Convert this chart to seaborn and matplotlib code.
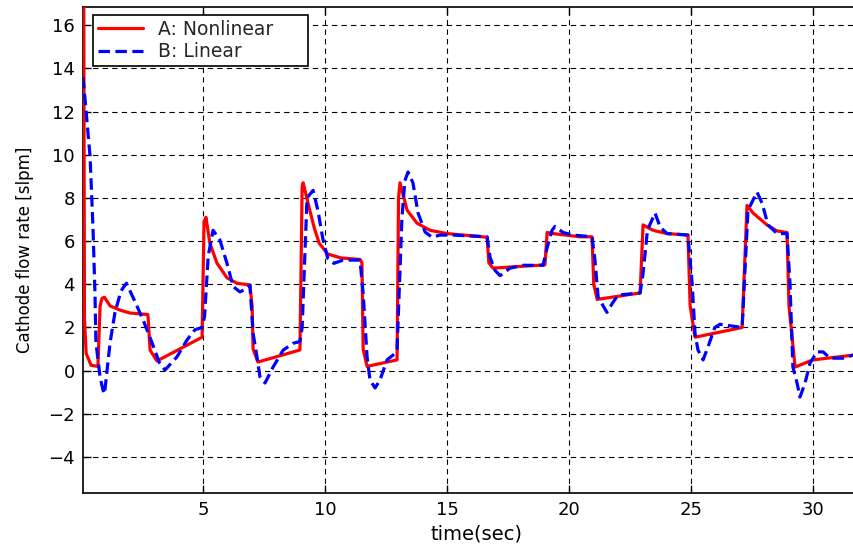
import numpy as np
import pandas as pd
import matplotlib
matplotlib.use("Agg")
import matplotlib.pyplot as plt
import seaborn as sns

# Cathode flow rate responses of the two controllers
t_nonlinear = [0.10, 0.13, 0.20, 0.40, 0.68, 0.77, 0.85, 0.95, 1.18, 1.60, 2.00, 2.73,
               2.82, 3.10, 4.95, 5.03, 5.11, 5.27, 5.56, 5.97, 6.38, 6.91, 7.00, 7.04,
               7.24, 8.96, 9.05, 9.09, 9.37, 9.55, 9.75, 10.10, 10.65, 11.42, 11.50,
               11.55, 11.71, 12.94, 13.00, 13.06, 13.35, 13.76, 14.29, 14.99, 16.63,
               16.70, 16.87, 19.00, 19.09, 19.33, 20.44, 20.93, 21.00, 21.14, 22.90,
               23.02, 23.43, 24.00, 24.86, 24.95, 25.15, 27.08, 27.28, 27.53, 28.10,
               28.51, 28.92, 29.00, 29.25, 29.98, 31.63, 32.30]
flow_nonlinear = [18.0, 2.4, 0.8, 0.25, 0.2, 3.0, 3.35, 3.4, 3.0, 2.8, 2.67, 2.6,
                  0.95, 0.45, 1.55, 6.9, 7.1, 5.9, 4.98, 4.3, 4.05, 3.97, 3.0, 1.0,
                  0.4, 0.96, 8.5, 8.7, 7.4, 6.6, 5.9, 5.4, 5.22, 5.15, 5.0,
                  1.0, 0.2, 0.5, 8.0, 8.7, 7.43, 6.83, 6.5, 6.35, 6.18,
                  5.0, 4.75, 4.9, 6.4, 6.35, 6.2, 6.2, 4.0, 3.3, 3.6,
                  6.75, 6.5, 6.35, 6.28, 3.0, 1.55, 2.0, 7.65, 7.3, 6.75,
                  6.47, 6.4, 3.0, 0.17, 0.5, 0.72, 0.75]

t_linear = [0.07, 0.19, 0.36, 0.48, 0.56, 0.60, 0.77, 0.89, 0.95, 1.18, 1.38, 1.63,
            1.85, 2.20, 2.55, 2.88, 3.20, 3.43, 3.92, 4.33, 4.66, 4.95, 5.05, 5.20,
            5.40, 5.68, 5.97, 6.22, 6.50, 6.79, 6.91, 7.04, 7.20, 7.32, 7.53, 7.86,
            8.27, 8.68, 8.96, 9.05, 9.25, 9.50, 9.70, 9.90, 10.10, 10.35, 10.73,
            11.42, 11.55, 11.71, 11.83, 12.04, 12.24, 12.53, 12.86, 12.94, 13.14,
            13.26, 13.39, 13.59, 13.80, 14.09, 14.37, 14.70, 15.23, 16.63, 16.75,
            16.95, 17.16, 17.57, 18.10, 18.92, 19.09, 19.29, 19.41, 19.74, 20.15,
            20.93, 21.05, 21.18, 21.54, 21.75, 21.99, 22.90, 23.02, 23.20, 23.51,
            23.72, 24.00, 24.86, 25.03, 25.15, 25.27, 25.48, 25.68, 25.96, 26.17,
            27.08, 27.32, 27.69, 27.90, 28.14, 28.51, 28.92, 29.04, 29.16, 29.33,
            29.45, 29.66, 29.86, 30.15, 30.40, 30.68, 31.22, 31.63, 32.30]
flow_linear = [13.6, 12.1, 9.9, 6.6, 3.6, 1.3, -0.3, -0.9, -1.08, 1.3, 2.7, 3.7,
               4.05, 3.2, 2.3, 1.35, 0.37, 0.03, 0.64, 1.42, 1.9, 2.0, 2.5, 5.3,
               6.5, 6.05, 4.97, 3.9, 3.65, 3.8, 3.96, 1.73, 0.64, -0.28, -0.57, 0.17,
               0.95, 1.27, 1.35, 2.0, 8.0, 8.35, 7.4, 6.1, 5.2, 4.97, 5.12,
               5.12, 3.6, 0.64, -0.43, -0.8, -0.43, 0.5, 0.8, 1.0, 7.1,
               8.8, 9.2, 8.7, 7.3, 6.42, 6.18, 6.28, 6.28, 6.2, 5.25,
               4.65, 4.4, 4.75, 4.88, 4.88, 5.7, 6.5, 6.68, 6.4, 6.28,
               6.2, 5.1, 3.4, 2.7, 3.1, 3.5, 3.6, 4.5, 6.5, 7.3,
               6.65, 6.35, 6.28, 4.05, 1.73, 0.96, 0.5, 1.1, 2.0, 2.15,
               2.0, 7.43, 8.27, 7.75, 6.75, 6.35, 6.35, 4.05, 0.17, -0.57,
               -1.22, -0.57, 0.35, 0.87, 0.87, 0.58, 0.58, 0.72, 0.75]

series_labels = ["A: Nonlinear", "B: Linear"]
x_ticks = [5, 10, 15, 20, 25, 30]
y_ticks = [-4, -2, 0, 2, 4, 6, 8, 10, 12, 14, 16]

sns.set_theme(style="ticks")
plt.rcParams["font.family"] = ["DejaVu Sans"]

W, H = 854, 546
fig = plt.figure(figsize=(W / 100, H / 100), dpi=100, facecolor="white")
ax_left, ax_right, ax_top, ax_bottom = 83, 870, 7, 492.5
ax = fig.add_axes([ax_left / W, (H - ax_bottom) / H,
                   (ax_right - ax_left) / W, (ax_bottom - ax_top) / H])
ax.set_facecolor("white")

df_a = pd.DataFrame({"time": t_nonlinear, "flow": flow_nonlinear})
df_b = pd.DataFrame({"time": t_linear, "flow": flow_linear})

sns.lineplot(data=df_a, x="time", y="flow", ax=ax, color="#ff0000", lw=2.3,
             label=series_labels[0], estimator=None, sort=False, zorder=3)
sns.lineplot(data=df_b, x="time", y="flow", ax=ax, color="#0000ff", lw=2.3,
             linestyle=(0, (3.6, 1.7)), label=series_labels[1],
             estimator=None, sort=False, zorder=4)

ax.set_xlim(0.07, 32.32)
ax.set_ylim(-5.64, 16.84)
ax.set_xticks(x_ticks)
ax.set_yticks(y_ticks)
ax.grid(True, color="black", linestyle=(0, (4.8, 3.8)), lw=0.8, zorder=1)
ax.set_axisbelow(True)

ax.tick_params(axis="both", direction="in", length=6, width=1.0, colors="black",
               labelsize=13, top=True, right=True, pad=6)
for side in ["left", "bottom", "top"]:
    ax.spines[side].set_visible(True)
    ax.spines[side].set_color("black")
    ax.spines[side].set_linewidth(1.2)
ax.spines["right"].set_visible(False)

ax.set_xlabel("time(sec)", fontsize=14, color="black", labelpad=4)
ax.set_ylabel("Cathode flow rate [slpm]", fontsize=12, color="black", labelpad=10)

# legend box spanning a fixed width in the upper left corner
leg_x0, leg_y0, leg_w, leg_h = 93, 15, 215, 54
leg = ax.legend(loc="upper left", mode="expand",
                bbox_to_anchor=(leg_x0 / W, (H - leg_y0 - leg_h) / H, leg_w / W, leg_h / H),
                bbox_transform=fig.transFigure, fontsize=13.5, frameon=True,
                fancybox=False, edgecolor="black", framealpha=1, borderpad=0.25,
                handlelength=2.4, handletextpad=0.8, labelspacing=0.2, borderaxespad=0)
leg.get_frame().set_linewidth(1.2)

fig.savefig("out.png", dpi=100, facecolor="white")
